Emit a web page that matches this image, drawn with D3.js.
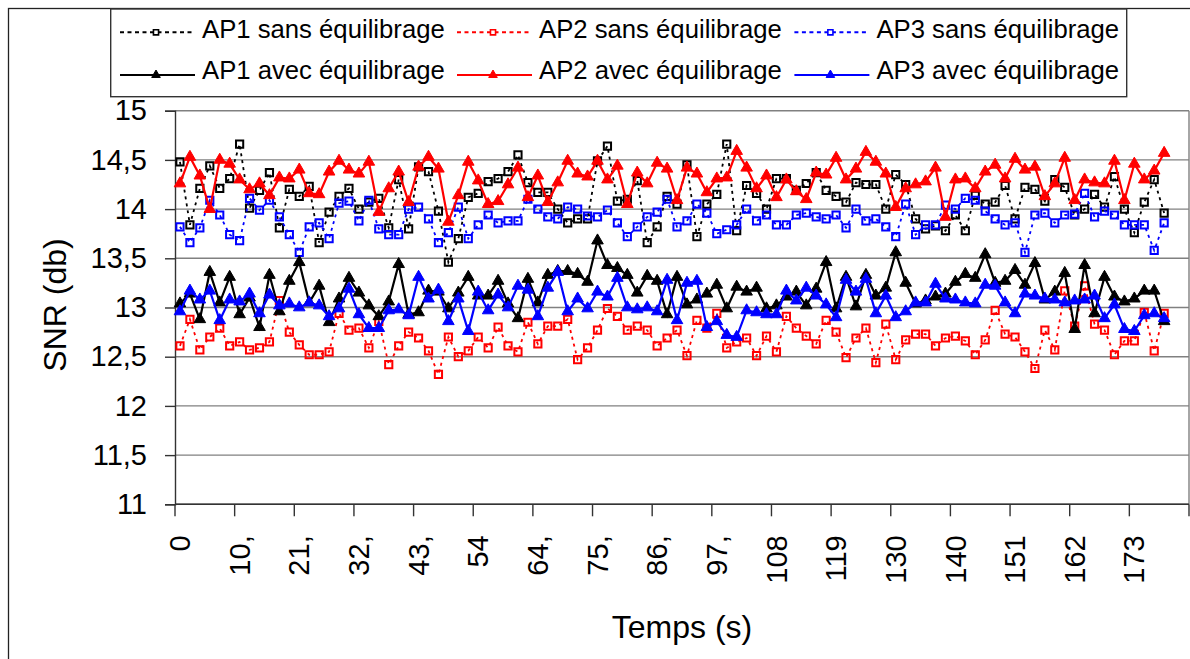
<!DOCTYPE html>
<html><head><meta charset="utf-8">
<script src="https://cdn.jsdelivr.net/npm/d3@7"></script>
<style>body{margin:0;background:#fff;} svg{display:block;font-family:"Liberation Sans",Arial,sans-serif;}</style>
</head><body><svg id="c" width="1190" height="659"></svg>
<script>
// Time categories (s)
const categories = [0,1.8,3.6,5.4,7.2,9,10.8,12.6,14.4,16.2,18,19.8,21.6,23.4,25.2,27,28.8,30.6,32.4,34.2,36,37.8,39.6,41.4,43.2,45,46.8,48.6,50.4,52.2,54,55.8,57.6,59.4,61.2,63,64.8,66.6,68.4,70.2,72,73.8,75.6,77.4,79.2,81,82.8,84.6,86.4,88.2,90,91.8,93.6,95.4,97.2,99,100.8,102.6,104.4,106.2,108,109.8,111.6,113.4,115.2,117,118.8,120.6,122.4,124.2,126,127.8,129.6,131.4,133.2,135,136.8,138.6,140.4,142.2,144,145.8,147.6,149.4,151.2,153,154.8,156.6,158.4,160.2,162,163.8,165.6,167.4,169.2,171,172.8,174.6,176.4,178.2,180,181.8];
const tickLabels = ["0","10,","21,","32,","43,","54","64,","75,","86,","97,","108","119","130","140","151","162","173"];
const yTicks = [11,11.5,12,12.5,13,13.5,14,14.5,15];

const ap1Sans = [14.48,13.84,14.21,14.44,14.21,14.31,14.66,14.01,14.19,14.37,13.81,14.20,14.13,14.23,13.66,13.97,14.13,
14.21,14.00,14.07,14.11,13.81,14.30,13.80,14.43,14.38,13.98,13.46,13.70,14.12,14.16,14.28,14.31,14.38,
14.55,14.27,14.17,14.17,14.00,13.86,13.90,13.90,14.49,14.64,14.08,14.10,14.29,13.66,13.82,14.13,14.05,
14.45,13.72,14.05,14.15,14.66,13.78,14.24,14.16,14.00,14.31,14.31,14.19,14.26,14.37,14.19,14.13,14.07,
14.27,14.25,14.25,14.00,14.35,14.25,13.90,13.80,13.83,13.78,13.94,13.78,14.14,14.05,14.07,14.24,13.90,
14.22,14.20,14.08,14.30,14.22,13.94,14.00,14.15,14.02,14.33,14.00,13.76,14.07,14.30,13.96];
const ap2Sans = [12.61,12.88,12.57,12.70,12.79,12.61,12.65,12.57,12.59,12.65,13.07,12.75,12.62,12.52,12.52,12.55,12.94,
12.77,12.79,12.59,12.86,12.42,12.61,12.75,12.69,12.56,12.32,12.70,12.50,12.56,12.70,12.59,12.80,12.61,
12.55,12.85,12.63,12.81,12.81,12.88,12.47,12.59,12.77,12.99,12.91,12.77,12.81,12.77,12.61,12.69,12.77,
12.51,12.87,12.79,12.94,12.59,12.65,12.69,12.51,12.71,12.55,12.91,12.79,12.71,12.63,12.87,12.75,12.49,
12.69,12.79,12.44,12.83,12.47,12.67,12.73,12.73,12.61,12.69,12.71,12.66,12.52,12.67,12.97,12.73,12.70,
12.55,12.38,12.77,12.57,13.17,12.81,13.22,12.83,12.77,12.52,12.66,12.66,12.95,12.56,12.94];
const ap3Sans = [13.82,13.66,13.81,14.09,13.94,13.74,13.68,14.11,13.99,14.09,13.92,13.74,13.56,13.82,13.86,13.70,14.06,
14.08,13.88,14.09,13.80,13.74,13.74,14.00,14.02,13.90,13.66,13.76,14.02,13.70,13.84,13.94,13.86,13.88,
13.88,14.10,14.00,13.92,13.90,14.02,14.00,13.93,13.92,13.99,13.86,13.72,13.82,13.92,13.97,14.10,13.82,
13.88,14.05,13.96,13.75,13.79,13.84,14.00,13.88,13.94,13.84,13.84,13.94,13.96,13.92,13.90,13.94,13.81,
14.00,13.88,13.90,13.82,13.72,14.05,13.74,13.84,13.84,14.04,14.00,14.11,14.09,13.98,13.90,13.84,13.86,
13.56,13.94,13.96,13.86,13.94,13.95,14.16,13.92,13.98,13.94,13.84,13.84,13.84,13.58,13.86];
const ap1Avec = [13.04,13.14,12.88,13.36,13.05,13.31,12.93,13.10,12.80,13.33,12.96,13.27,13.46,13.05,13.22,12.85,13.09,
13.30,13.15,13.02,12.91,13.06,13.44,12.93,12.95,13.17,13.16,12.99,13.15,13.31,13.12,13.12,13.27,13.04,
12.89,13.29,13.05,13.33,13.37,13.37,13.34,13.26,13.68,13.43,13.40,13.33,13.15,13.32,13.27,12.93,13.31,
13.03,13.08,13.14,13.23,12.99,13.21,13.16,13.20,12.99,13.02,13.11,13.16,13.02,13.19,13.46,12.99,13.31,
13.01,13.33,13.12,13.20,13.56,13.25,13.04,13.07,13.11,13.14,13.26,13.34,13.30,13.54,13.25,13.27,13.38,
13.23,13.45,13.08,13.16,13.35,12.78,13.43,12.94,13.31,13.11,13.06,13.09,13.17,13.17,12.86];
const ap2Avec = [14.26,14.53,14.34,14.00,14.50,14.46,14.30,14.20,14.26,14.14,14.32,14.31,14.40,14.16,14.15,14.38,14.49,
14.40,14.36,14.48,13.97,14.21,14.38,14.07,14.43,14.53,14.41,13.87,14.14,14.48,14.29,14.05,14.08,14.25,
14.42,14.12,14.34,14.07,14.27,14.49,14.36,14.33,14.49,14.30,14.44,14.05,14.37,14.26,14.47,14.41,14.09,
14.42,14.36,14.17,14.31,14.32,14.59,14.42,14.21,14.34,14.12,14.30,14.18,14.10,14.37,14.35,14.52,14.30,
14.41,14.58,14.48,14.36,14.02,14.21,14.25,14.28,14.42,13.92,14.30,14.31,14.21,14.38,14.45,14.31,14.51,
14.40,14.43,14.13,14.26,14.52,14.09,14.30,14.27,14.26,14.49,14.09,14.46,14.30,14.39,14.57];
const ap3Avec = [12.96,13.17,13.08,13.17,12.87,13.08,13.06,13.14,12.94,13.13,13.02,13.04,13.00,13.05,13.02,12.91,12.99,
13.19,12.93,12.79,12.79,12.97,12.98,12.92,13.31,13.09,13.18,12.86,13.09,12.76,13.16,12.97,13.13,13.00,
13.22,13.18,12.91,13.20,13.36,12.96,13.09,12.99,13.16,13.11,13.30,13.00,12.98,13.00,12.96,13.28,12.87,
13.25,13.27,12.80,12.86,12.72,12.70,12.97,12.95,12.93,12.93,13.17,13.07,13.20,13.12,13.03,12.90,13.28,
13.16,13.29,12.94,13.12,12.90,12.96,13.05,13.05,13.24,13.09,13.08,13.05,13.04,13.23,13.22,13.05,12.94,
13.14,13.12,13.09,13.08,13.05,13.07,13.08,13.12,12.89,13.03,12.78,12.76,12.92,12.94,12.89];

const seriesNames = ["AP1 sans équilibrage","AP2 sans équilibrage","AP3 sans équilibrage","AP1 avec équilibrage","AP2 avec équilibrage","AP3 avec équilibrage"];
const seriesValues = [ap1Sans, ap2Sans, ap3Sans, ap1Avec, ap2Avec, ap3Avec];
const seriesColors = ["#000000","#ff0000","#0000ff","#000000","#ff0000","#0000ff"];
const seriesDashed = [true,true,true,false,false,false];

const svg = d3.select("#c");
const L = 175, R = 1189, T = 110.7, B = 504.3;
const x = d3.scaleBand().domain(categories).range([L, R]).padding(0);
const bw = x.bandwidth();
const y = d3.scaleLinear().domain([11, 15]).range([B, T]);

// outer chart frame (right/bottom edges lie outside the picture)
svg.append("rect").attr("x", 8.5).attr("y", 8.5).attr("width", 1200).attr("height", 700)
  .attr("fill", "none").attr("stroke", "#222").attr("stroke-width", 1.3);

// gridlines
svg.append("g").selectAll("line").data(yTicks).join("line")
  .attr("x1", L).attr("x2", R).attr("y1", d => y(d)).attr("y2", d => y(d))
  .attr("stroke", "#808080").attr("stroke-width", 1.4);
// right border of plot area
svg.append("line").attr("x1", R).attr("x2", R).attr("y1", T).attr("y2", B)
  .attr("stroke", "#808080").attr("stroke-width", 1.4);

// y axis
const yAxis = d3.axisLeft(y).tickValues(yTicks).tickSize(10).tickPadding(18)
  .tickFormat(d => String(d).replace(".", ","));
const gy = svg.append("g").attr("transform", `translate(${L},0)`).call(yAxis);
gy.select(".domain").attr("stroke", "#333").attr("stroke-width", 1.4);
gy.selectAll(".tick line").attr("stroke", "#333").attr("stroke-width", 1.4);
gy.selectAll(".tick text").attr("font-size", 29).attr("fill", "#000")
  .attr("font-family", "Liberation Sans, Arial, sans-serif");

// x axis
const tickCats = categories.filter((d, i) => i % 6 === 0);
const gx = svg.append("g");
gx.append("line").attr("x1", L).attr("x2", R).attr("y1", B).attr("y2", B)
  .attr("stroke", "#333").attr("stroke-width", 1.4);
const tickPos = tickCats.map(c => x(c)).concat([x.range()[1]]);
gx.selectAll("line.tk").data(tickPos).join("line").attr("class", "tk")
  .attr("x1", d => d).attr("x2", d => d).attr("y1", B).attr("y2", B + 12)
  .attr("stroke", "#333").attr("stroke-width", 1.4);
gx.selectAll("text").data(tickCats).join("text")
  .attr("transform", d => `translate(${x(d) + bw / 2},${B + 31}) rotate(-90)`)
  .attr("text-anchor", "end").attr("dy", "0.35em")
  .attr("font-size", 29).text((d, i) => tickLabels[i]);

// axis titles
svg.append("text").attr("transform", "translate(55,305) rotate(-90)")
  .attr("text-anchor", "middle").attr("dy", "0.35em").attr("font-size", 32).text("SNR (db)");
svg.append("text").attr("x", (L + R) / 2).attr("y", 638)
  .attr("text-anchor", "middle").attr("font-size", 32).text("Temps (s)");

// series
const sq = d3.symbol().type(d3.symbolSquare).size(52);
const tri = d3.symbol().type(d3.symbolTriangle).size(58);
const sqL = d3.symbol().type(d3.symbolSquare).size(26);
const triL = d3.symbol().type(d3.symbolTriangle).size(32);
const plot = svg.append("g");
seriesValues.forEach((vals, s) => {
  const g = plot.append("g");
  const line = d3.line().x((d, i) => x(categories[i]) + bw / 2).y(d => y(d));
  g.append("path").attr("d", line(vals)).attr("fill", "none")
    .attr("stroke", seriesColors[s]).attr("stroke-width", seriesDashed[s] ? 1.8 : 2.2)
    .attr("stroke-dasharray", seriesDashed[s] ? "3,4" : null);
  g.selectAll("path.m").data(vals).join("path").attr("class", "m")
    .attr("transform", (d, i) => `translate(${x(categories[i]) + bw / 2},${y(d)})`)
    .attr("d", seriesDashed[s] ? sq() : tri())
    .attr("fill", seriesDashed[s] ? "none" : seriesColors[s])
    .attr("stroke", seriesColors[s]).attr("stroke-width", seriesDashed[s] ? 2 : 1);
});

// legend
const leg = svg.append("g");
leg.append("rect").attr("x", 110.7).attr("y", 9).attr("width", 1016).attr("height", 87.7)
  .attr("fill", "#fff").attr("stroke", "#333").attr("stroke-width", 1.4);
const colX = [120, 457, 794.4];
const rowBase = [37.8, 79.3];
const rowLine = [32.3, 75];
seriesNames.forEach((name, s) => {
  const r = Math.floor(s / 3);
  const cx = colX[s % 3], by = rowBase[r], ly = rowLine[r];
  leg.append("line").attr("x1", cx).attr("x2", cx + 75).attr("y1", ly).attr("y2", ly)
    .attr("stroke", seriesColors[s]).attr("stroke-width", 2)
    .attr("stroke-dasharray", seriesDashed[s] ? "4,3.5" : null);
  leg.append("path").attr("transform", `translate(${cx + 36},${ly})`)
    .attr("d", seriesDashed[s] ? sqL() : triL())
    .attr("fill", seriesDashed[s] ? "#fff" : seriesColors[s])
    .attr("stroke", seriesColors[s]).attr("stroke-width", seriesDashed[s] ? 1.6 : 1);
  leg.append("text").attr("x", cx + 82).attr("y", by).attr("font-size", 25.7).text(name);
});
</script></body></html>
